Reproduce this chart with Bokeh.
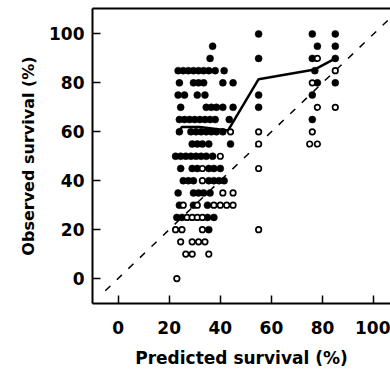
from bokeh.plotting import figure
from bokeh.models import Range1d, FixedTicker, LinearAxis
from bokeh.embed import file_html
from bokeh.resources import INLINE

# Filled circles (predicted %, observed %)
filled_x = [55, 76, 85,
            37, 78, 85,
            36, 55, 76, 85,
            23.5, 25.5, 27.5, 29.5, 31.5, 33.5, 35.5, 38, 41.5, 77,
            24, 29.5, 31.5, 33.5, 41, 45, 78, 85,
            23.5, 26, 31, 34, 55, 76,
            24.5, 34.5, 36.5, 38.5, 41, 45, 55,
            24, 26, 28, 30, 32, 34, 36, 38, 43.5, 76,
            24, 28.5, 30.5, 32.5, 34.5, 36.5, 38.5, 41,
            29, 31, 33, 35.5, 44,
            22.5, 24.5, 26.5, 28.5, 30.5, 32.5, 34.5, 37,
            24.5, 29, 31, 35.5, 37.5, 40,
            25.5, 27.5, 29.5, 35.5, 37.5, 39.5, 41.5,
            23.5, 29.5, 31.5, 33.5, 36,
            24, 29.5, 35,
            23, 25, 35, 37.5,
            35.5]
filled_y = [100, 100, 100,
            95, 95, 95,
            90, 90, 90, 90,
            85, 85, 85, 85, 85, 85, 85, 85, 85, 85,
            80, 80, 80, 80, 80, 80, 80, 80,
            75, 75, 75, 75, 75, 75,
            70, 70, 70, 70, 70, 70, 70,
            65, 65, 65, 65, 65, 65, 65, 65, 65, 65,
            60, 60, 60, 60, 60, 60, 60, 60,
            55, 55, 55, 55, 55,
            50, 50, 50, 50, 50, 50, 50, 50,
            45, 45, 45, 45, 45, 45,
            40, 40, 40, 40, 40, 40, 40,
            35, 35, 35, 35, 35,
            30, 30, 30,
            25, 25, 25, 25,
            20]

# Open circles (predicted %, observed %)
open_x = [78, 85, 76, 78, 85,
          44, 55, 76,
          55, 75, 78,
          40,
          33, 55,
          33,
          41, 45,
          25.5, 31, 37.5, 40, 42.5, 45,
          27, 29, 31, 33,
          22.5, 25, 33, 55,
          24.5, 29, 31.5, 34,
          26.5, 29, 35.5,
          23]
open_y = [90, 85, 80, 70, 70,
          60, 60, 60,
          55, 55, 55,
          50,
          45, 45,
          40,
          35, 35,
          30, 30, 30, 30, 30, 30,
          25, 25, 25, 25,
          20, 20, 20, 20,
          15, 15, 15, 15,
          10, 10, 10,
          0]

# Solid calibration line
line_x = [23, 25, 32, 43, 55, 77, 86]
line_y = [59, 62, 62, 60.5, 81.5, 85.5, 90.5]

# Line of identity
diag = [-5, 115]

ticks = [0, 20, 40, 60, 80, 100]

p = figure(width=390, height=375, output_backend="svg", toolbar_location=None,
           x_range=Range1d(-10, 106.6), y_range=Range1d(-10.2, 110.4),
           min_border_left=92, min_border_right=0, min_border_top=8,
           min_border_bottom=72, background_fill_color="white",
           border_fill_color="white")
p.outline_line_color = None
p.grid.visible = False

p.line(diag, diag, line_color="black", line_width=1.5, line_dash="7 9")
p.line(line_x, line_y, line_color="black", line_width=2.5)
p.scatter(filled_x, filled_y, marker="circle", size=7, fill_color="black",
          line_color="black", line_width=0.5)
p.scatter(open_x, open_y, marker="circle", size=5.5, fill_color="white",
          line_color="black", line_width=1.7)

font = "DejaVu Sans"
for ax in (p.xaxis[0], p.yaxis[0]):
    ax.ticker = FixedTicker(ticks=ticks)
    ax.minor_tick_line_color = None
    ax.major_tick_out = 0
    ax.major_tick_in = 8
    ax.major_tick_line_width = 1.5
    ax.axis_line_width = 2
    ax.major_label_text_font = font
    ax.major_label_text_font_style = "bold"
    ax.major_label_text_font_size = "17px"
    ax.major_label_text_color = "black"
    ax.axis_label_text_font = font
    ax.axis_label_text_font_style = "bold"
    ax.axis_label_text_color = "black"

p.xaxis.axis_label = "Predicted survival (%)"
p.yaxis.axis_label = "Observed survival (%)"
p.xaxis.axis_label_text_font_size = "17px"
p.yaxis.axis_label_text_font_size = "16px"
p.xaxis.major_label_standoff = 17
p.yaxis.major_label_standoff = 8
p.xaxis.axis_label_standoff = 11
p.yaxis.axis_label_standoff = 8

top = LinearAxis(ticker=FixedTicker(ticks=[]), major_label_text_font_size="0px",
                 major_tick_out=0, major_tick_in=0, minor_tick_out=0,
                 minor_tick_in=0, major_label_standoff=0, axis_line_width=2)
p.add_layout(top, "above")

open("out.html", "w").write(file_html(p, INLINE))
